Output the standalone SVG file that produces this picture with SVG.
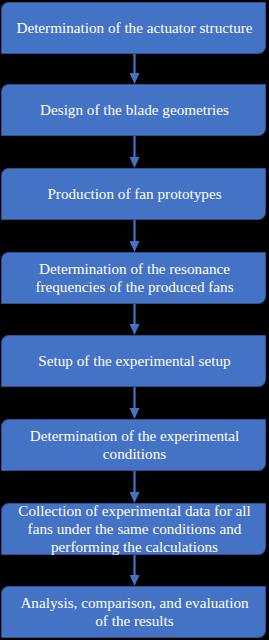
<svg xmlns="http://www.w3.org/2000/svg" xmlns:xlink="http://www.w3.org/1999/xlink" width="269" height="640" viewBox="0 0 269 640">
<style>
.box{fill:#4472C4;stroke:#2F528F;stroke-width:1}
.t{font-family:'Liberation Serif','Times New Roman',serif;font-size:15.2px;fill:#FFFFFF;text-anchor:middle}
.c{stroke:#4472C4;stroke-width:2.2;fill:none}
.h{fill:#4472C4}
</style>
<defs>
<path id="b" d="M8.5,0.5 H265.5 V44.5 A7,7 0 0 1 258.5,51.5 H1.5 V7.5 A7,7 0 0 1 8.5,0.5 Z"/>
</defs>
<rect width="269" height="640" fill="#000"/>
<g id="connectors">
<g><line class="c" x1="134.5" y1="53" x2="134.5" y2="74"/><path class="h" d="M129.5,73 H139.5 L134.5,84 Z"/></g>
<g><line class="c" x1="134.5" y1="135" x2="134.5" y2="158"/><path class="h" d="M129.5,157 H139.5 L134.5,168 Z"/></g>
<g><line class="c" x1="134.5" y1="219" x2="134.5" y2="242"/><path class="h" d="M129.5,241 H139.5 L134.5,252 Z"/></g>
<g><line class="c" x1="134.5" y1="303" x2="134.5" y2="325"/><path class="h" d="M129.5,324 H139.5 L134.5,335 Z"/></g>
<g><line class="c" x1="134.5" y1="386" x2="134.5" y2="409"/><path class="h" d="M129.5,408 H139.5 L134.5,419 Z"/></g>
<g><line class="c" x1="134.5" y1="470" x2="134.5" y2="493"/><path class="h" d="M129.5,492 H139.5 L134.5,503 Z"/></g>
<g><line class="c" x1="134.5" y1="554" x2="134.5" y2="576"/><path class="h" d="M129.5,575 H139.5 L134.5,586 Z"/></g>
</g>
<g id="n1"><use href="#b" class="box" y="2"/><text class="t" font-family="Liberation Serif, serif" x="134.5" y="32.5">Determination of the actuator structure</text></g>
<g id="n2"><use href="#b" class="box" y="84"/><text class="t" font-family="Liberation Serif, serif" x="134.5" y="114.5">Design of the blade geometries</text></g>
<g id="n3"><use href="#b" class="box" y="168"/><text class="t" font-family="Liberation Serif, serif" x="134.5" y="198.5">Production of fan prototypes</text></g>
<g id="n4"><use href="#b" class="box" y="252"/><text class="t" font-family="Liberation Serif, serif" x="134.5" y="273.5">Determination of the resonance</text><text class="t" font-family="Liberation Serif, serif" x="134.5" y="291.5">frequencies of the produced fans</text></g>
<g id="n5"><use href="#b" class="box" y="335"/><text class="t" font-family="Liberation Serif, serif" x="134.5" y="365.5">Setup of the experimental setup</text></g>
<g id="n6"><use href="#b" class="box" y="419"/><text class="t" font-family="Liberation Serif, serif" x="134.5" y="440.5">Determination of the experimental</text><text class="t" font-family="Liberation Serif, serif" x="134.5" y="458.5">conditions</text></g>
<g id="n7"><use href="#b" class="box" y="503"/><text class="t" font-family="Liberation Serif, serif" x="134.5" y="515.5">Collection of experimental data for all</text><text class="t" font-family="Liberation Serif, serif" x="134.5" y="533.5">fans under the same conditions and</text><text class="t" font-family="Liberation Serif, serif" x="134.5" y="551.5">performing the calculations</text></g>
<g id="n8"><use href="#b" class="box" y="586"/><text class="t" font-family="Liberation Serif, serif" x="134.5" y="607.5">Analysis, comparison, and evaluation</text><text class="t" font-family="Liberation Serif, serif" x="134.5" y="625.5">of the results</text></g>
</svg>
